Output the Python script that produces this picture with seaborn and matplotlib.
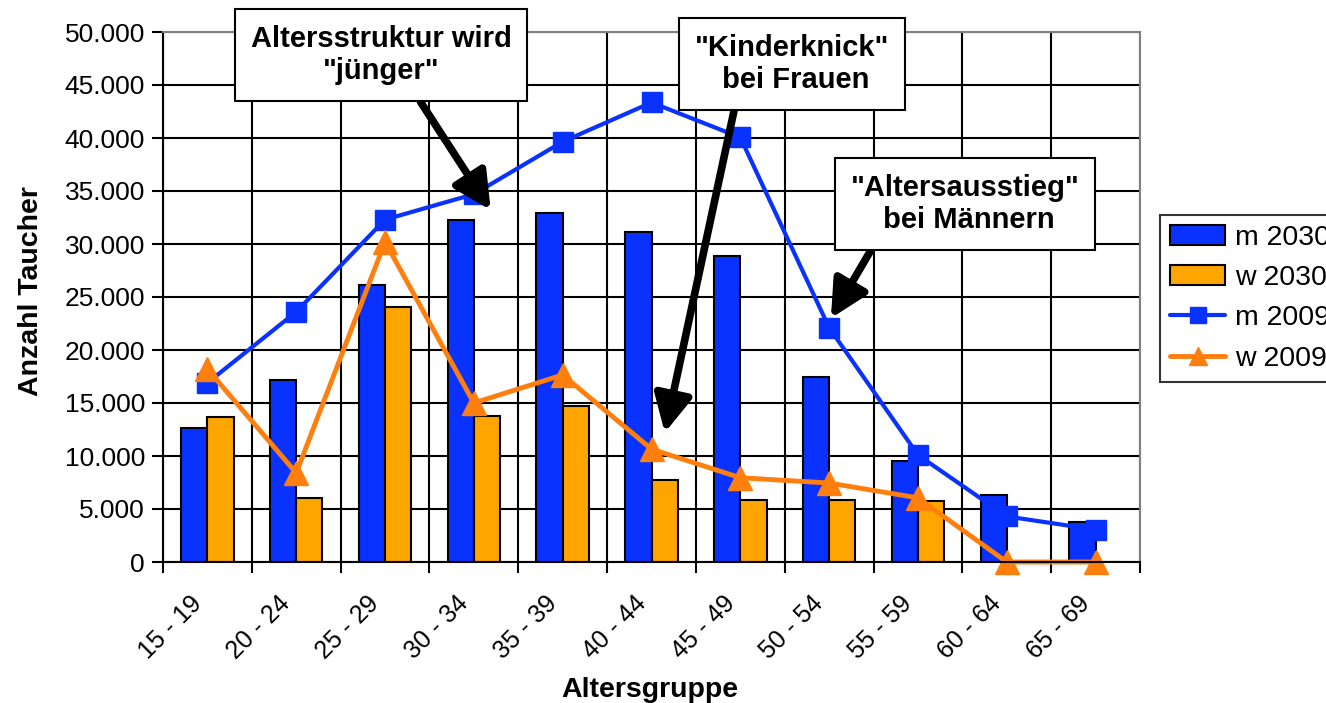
import numpy as np
import pandas as pd
import matplotlib.pyplot as plt
import matplotlib.transforms as mtransforms
from matplotlib.ticker import FuncFormatter, MultipleLocator
from matplotlib.lines import Line2D
from matplotlib.patches import Patch
import seaborn as sns

# Daten
gruppen = ['15 - 19', '20 - 24', '25 - 29', '30 - 34', '35 - 39', '40 - 44',
           '45 - 49', '50 - 54', '55 - 59', '60 - 64', '65 - 69']
m_2030 = [12600, 17200, 26100, 32300, 32900, 31100, 28900, 17500, 9500, 6350, 3750]
w_2030 = [13700, 6000, 24100, 13800, 14700, 7750, 5880, 5880, 5720, 0, 0]
m_2009 = [16900, 23600, 32300, 34700, 39650, 43350, 40050, 22100, 10100, 4300, 3050]
w_2009 = [18200, 8400, 30200, 15000, 17650, 10650, 7950, 7450, 6050, 0, 0]

blau = '#0a32ff'
orange_bar = '#ffa500'
orange_line = '#ff7f0e'

sns.set_theme(style='white')
plt.rcParams['font.family'] = ['Liberation Sans', 'DejaVu Sans']
plt.rcParams['text.color'] = 'black'

fig = plt.figure(figsize=(13.26, 7.03), dpi=100)
ax = fig.add_axes([163 / 1326, 141 / 703, 977 / 1326, 530 / 703])

bars = pd.DataFrame({
    'Altersgruppe': gruppen * 2,
    'Anzahl': m_2030 + w_2030,
    'Serie': ['m 2030'] * len(gruppen) + ['w 2030'] * len(gruppen),
})
sns.barplot(data=bars, x='Altersgruppe', y='Anzahl', hue='Serie',
            palette=[blau, orange_bar], saturation=1, width=0.59, gap=0,
            edgecolor='black', linewidth=1.5, legend=False, ax=ax)

sns.pointplot(x=gruppen, y=m_2009, color=blau, markers='s', errorbar=None,
              linewidth=3, markersize=14, markeredgewidth=1, ax=ax)
sns.pointplot(x=gruppen, y=w_2009, color=orange_line, markers='^', errorbar=None,
              linewidth=3.5, markersize=17, markeredgewidth=1, ax=ax)
for ln in ax.lines:
    ln.set_clip_on(False)

# Achsen
ax.set_ylim(0, 50000)
ax.set_xlim(-0.5, len(gruppen) - 0.5)
ax.yaxis.set_major_locator(MultipleLocator(5000))
ax.yaxis.set_major_formatter(FuncFormatter(lambda v, p: f'{v:,.0f}'.replace(',', '.')))
ax.set_xticks(range(len(gruppen)))
ax.set_xticklabels(gruppen, rotation=45, ha='right', va='top', rotation_mode='anchor')
ax.set_xticks(np.arange(-0.5, len(gruppen), 1), minor=True)
ax.set_xlabel('')
ax.set_ylabel('')

ax.tick_params(axis='x', which='major', length=0, pad=21, labelsize=18, labelcolor='black')
ax.tick_params(axis='x', which='minor', length=8, width=1.5, direction='out',
               color='black', bottom=True)
ax.tick_params(axis='y', length=8, width=1.5, direction='out', color='black',
               left=True, pad=5, labelsize=19, labelcolor='black')

verschiebung = mtransforms.ScaledTranslation(-0.18, 0, fig.dpi_scale_trans)
for lab in ax.get_xticklabels():
    lab.set_transform(lab.get_transform() + verschiebung)

ax.set_axisbelow(True)
ax.grid(True, which='minor', axis='x', color='black', linewidth=1.5)
ax.grid(True, which='major', axis='y', color='black', linewidth=1.5)
ax.grid(False, which='major', axis='x')

for side in ['left', 'bottom']:
    ax.spines[side].set_color('black')
    ax.spines[side].set_linewidth(1.5)
for side in ['top', 'right']:
    ax.spines[side].set_color('#808080')
    ax.spines[side].set_linewidth(1.5)

fig.text(31 / 1326, 1 - 291 / 703, 'Anzahl Taucher', rotation=90, ha='center',
         va='center', fontsize=20.5, fontweight='bold')
fig.text(650 / 1326, 1 - 690 / 703, 'Altersgruppe', ha='center', va='center',
         fontsize=20.5, fontweight='bold')

# Hinweise mit Pfeilen
box = dict(boxstyle='square,pad=0.55', facecolor='white', edgecolor='black', linewidth=1.5)
pfeil = dict(arrowstyle='-|>,head_length=0.75,head_width=0.38', color='black',
             lw=5.5, mutation_scale=30, shrinkA=0, shrinkB=0)

hinweise = [
    ('Altersstruktur wird\n"jünger"', (3.19, 33200), (381, 648), 0.61),
    ('"Kinderknick"\n bei Frauen', (5.15, 12200), (792, 639), 0.22),
    ('"Altersausstieg"\n bei Männern', (7.02, 23000), (965, 499), 0.13),
]
for text, ziel, pos, rel in hinweise:
    ax.annotate(text, xy=ziel, xycoords='data', xytext=pos, textcoords='figure pixels',
                ha='center', va='center', fontsize=21, fontweight='bold',
                bbox=box, arrowprops=dict(pfeil, relpos=(rel, 0)), zorder=10,
                annotation_clip=False)

# Legende (rechts abgeschnitten wie im Original)
handles = [
    Patch(facecolor=blau, edgecolor='black', linewidth=1.5),
    Patch(facecolor=orange_bar, edgecolor='black', linewidth=1.5),
    Line2D([], [], color=blau, lw=3, marker='s', markersize=12),
    Line2D([], [], color=orange_line, lw=3.5, marker='^', markersize=13),
]
leg = fig.legend(handles, ['m 2030', 'w 2030', 'm 2009', 'w 2009'],
                 loc='upper left', bbox_to_anchor=(1160 / 1326, 1 - 215 / 703),
                 fontsize=20.5, frameon=True, fancybox=False, edgecolor='black',
                 handlelength=1.95, handleheight=0.7, handletextpad=0.35,
                 labelspacing=0.5, borderpad=0.35, borderaxespad=0)
leg.get_frame().set_linewidth(1.5)

fig.savefig('out.png', dpi=100)
